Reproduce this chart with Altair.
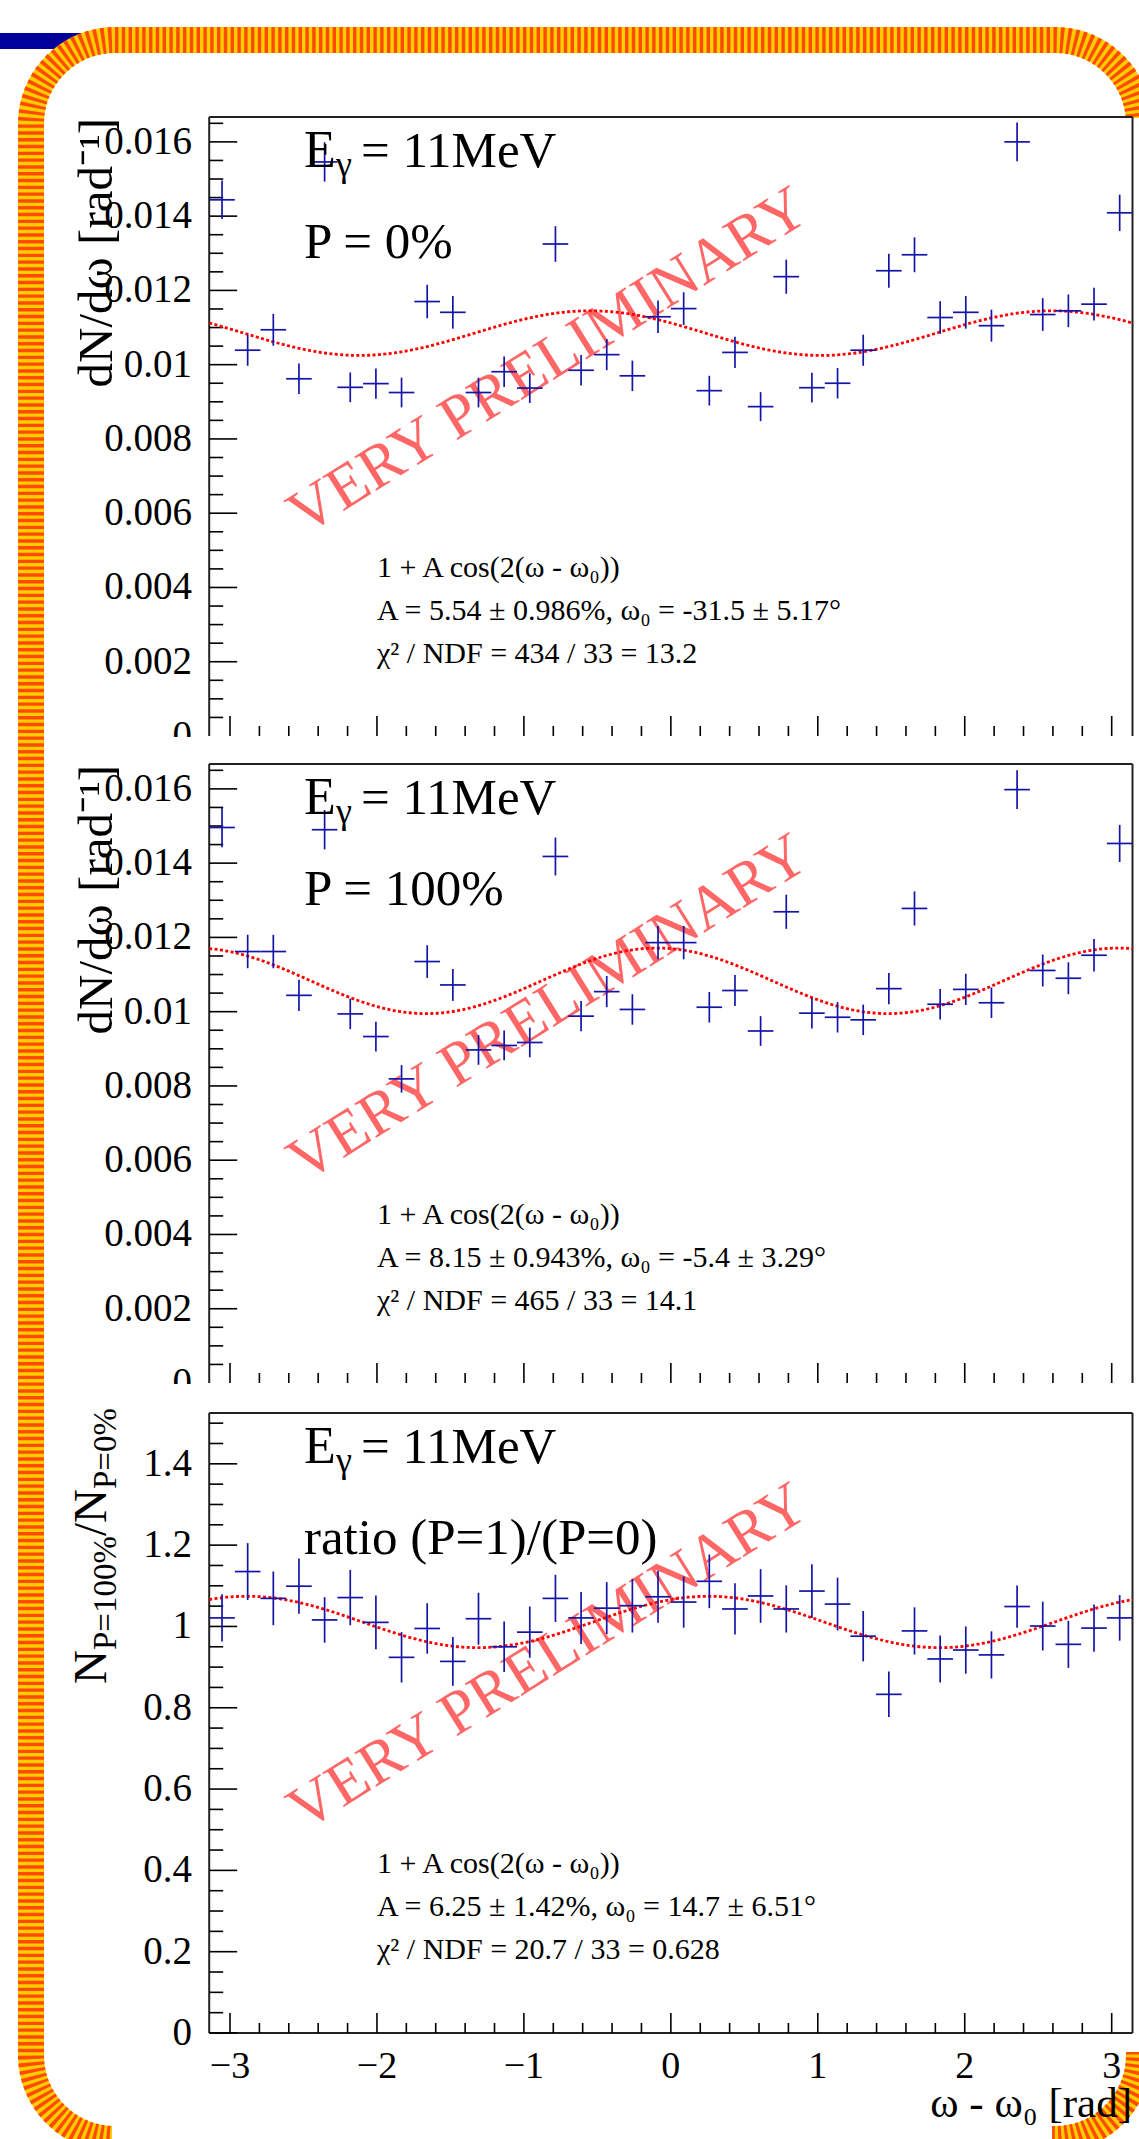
import altair as alt
import pandas as pd

FONT = "Liberation Serif"
W, H = 1139, 2139
BLUE = "#1414A8"
RED = "#FF0000"
WM = "#FF6666"

# ---------------- data ----------------
bin_deg = [-175, -165, -155, -145, -135, -125, -115, -105, -95, -85, -75, -65,
           -55, -45, -35, -25, -15, -5, 5, 15, 25, 35, 45, 55,
           65, 75, 85, 95, 105, 115, 125, 135, 145, 155, 165, 175]

p0_val = [0.01444, 0.01039, 0.01094, 0.00962, 0.01546, 0.00939, 0.00949, 0.00925, 0.01170, 0.01141,
          0.00925, 0.00981, 0.00937, 0.01325, 0.00985, 0.01027, 0.00970, 0.01129, 0.01151, 0.00930,
          0.01033, 0.00887, 0.01237, 0.00938, 0.00950, 0.01039, 0.01253, 0.01296, 0.01127, 0.01141,
          0.01105, 0.01600, 0.01135, 0.01145, 0.01163, 0.01409]
p0_err = [0.00052, 0.00042, 0.00043, 0.00041, 0.00053, 0.00040, 0.00041, 0.00040, 0.00045, 0.00044,
          0.00040, 0.00041, 0.00040, 0.00048, 0.00041, 0.00042, 0.00041, 0.00044, 0.00044, 0.00040,
          0.00042, 0.00039, 0.00046, 0.00040, 0.00041, 0.00042, 0.00046, 0.00047, 0.00044, 0.00044,
          0.00043, 0.00052, 0.00044, 0.00044, 0.00044, 0.00049]

p100_val = [0.01496, 0.01162, 0.01162, 0.01044, 0.01490, 0.00994, 0.00933, 0.00819, 0.01135, 0.01072,
            0.00897, 0.00909, 0.00917, 0.01418, 0.00988, 0.01054, 0.01006, 0.01186, 0.01186, 0.01012,
            0.01057, 0.00948, 0.01269, 0.00996, 0.00985, 0.00978, 0.01062, 0.01278, 0.01020, 0.01060,
            0.01024, 0.01598, 0.01111, 0.01090, 0.01152, 0.01453]
p100_err = [0.00053, 0.00045, 0.00045, 0.00042, 0.00053, 0.00041, 0.00040, 0.00037, 0.00044, 0.00043,
            0.00040, 0.00040, 0.00040, 0.00051, 0.00041, 0.00042, 0.00041, 0.00045, 0.00045, 0.00041,
            0.00042, 0.00040, 0.00046, 0.00041, 0.00041, 0.00041, 0.00042, 0.00046, 0.00041, 0.00042,
            0.00041, 0.00052, 0.00043, 0.00043, 0.00044, 0.00050]

ratio_val = [1.021, 1.135, 1.069, 1.099, 1.016, 1.071, 1.010, 0.924, 0.995, 0.914,
             1.019, 0.950, 0.986, 1.069, 1.021, 1.045, 1.051, 1.073, 1.060, 1.111,
             1.043, 1.075, 1.043, 1.087, 1.055, 0.976, 0.833, 0.989, 0.920, 0.942,
             0.930, 1.049, 1.001, 0.956, 0.996, 1.021]
ratio_err = [0.058, 0.070, 0.066, 0.068, 0.056, 0.068, 0.066, 0.062, 0.062, 0.060,
             0.064, 0.062, 0.063, 0.058, 0.064, 0.064, 0.066, 0.064, 0.063, 0.066,
             0.063, 0.066, 0.058, 0.066, 0.065, 0.062, 0.056, 0.058, 0.058, 0.058,
             0.058, 0.052, 0.060, 0.058, 0.058, 0.056]

# fit parameters: N * (1 + A cos(2(w - w0)))
fit_p0 = {"N": 0.01085, "A": 0.0554, "w0": -31.5}
fit_p100 = {"N": 0.01083, "A": 0.0815, "w0": -5.4}
fit_ratio = {"N": 1.011, "A": 0.0625, "w0": 14.7}

stats_p0 = ["1 + A cos(2(ω - ω₀))", "A = 5.54 ± 0.986%, ω₀ = -31.5 ± 5.17°", "χ² / NDF = 434 / 33 = 13.2"]
stats_p100 = ["1 + A cos(2(ω - ω₀))", "A = 8.15 ± 0.943%, ω₀ = -5.4 ± 3.29°", "χ² / NDF = 465 / 33 = 14.1"]
stats_ratio = ["1 + A cos(2(ω - ω₀))", "A = 6.25 ± 1.42%, ω₀ = 14.7 ± 6.51°", "χ² / NDF = 20.7 / 33 = 0.628"]

# axis ticks
x_major = [-3, -2, -1, 0, 1, 2, 3]
x_labels = ["−3", "−2", "−1", "0", "1", "2", "3"]
x_minor = [round(-3.0 + 0.2 * i, 1) for i in range(31) if i % 5 != 0]

dn_major = [0.002, 0.004, 0.006, 0.008, 0.010, 0.012, 0.014, 0.016]
dn_labels = ["0.002", "0.004", "0.006", "0.008", "0.01", "0.012", "0.014", "0.016"]
dn_minor = [round(0.0005 * i, 4) for i in range(1, 34) if i % 4 != 0]

r_major = [0.0, 0.2, 0.4, 0.6, 0.8, 1.0, 1.2, 1.4]
r_labels = ["0", "0.2", "0.4", "0.6", "0.8", "1", "1.2", "1.4"]
r_minor = [round(0.05 * i, 2) for i in range(1, 31) if i % 4 != 0]

# ---------------- layout (pixels) ----------------
X_LEFT, X_RIGHT = 209.2, 1132.5
PI = 3.141592653589793
xs = alt.Scale(domain=[-PI, PI], range=[X_LEFT, X_RIGHT], nice=False, zero=False)

panels = [
    dict(val=p0_val, err=p0_err, fit=fit_p0, ymax=0.01667, top=117, bot=736,
         major=dn_major, labels=dn_labels, minor=dn_minor, line2="P = 0%",
         stats=stats_p0, bottom_line=False),
    dict(val=p100_val, err=p100_err, fit=fit_p100, ymax=0.01667, top=764, bot=1383,
         major=dn_major, labels=dn_labels, minor=dn_minor, line2="P = 100%",
         stats=stats_p100, bottom_line=False),
    dict(val=ratio_val, err=ratio_err, fit=fit_ratio, ymax=1.525, top=1413, bot=2033,
         major=r_major, labels=r_labels, minor=r_minor, line2="ratio (P=1)/(P=0)",
         stats=stats_ratio, bottom_line=True),
]

ONE = pd.DataFrame({"a": [0]})


def text_at(text, x, y, size, color="black", align="left", baseline="alphabetic",
            angle=None, dx=0, dy=0, opacity=1.0):
    kw = dict(text=text, font=FONT, fontSize=size, color=color, align=align,
              baseline=baseline, dx=dx, dy=dy, opacity=opacity)
    if angle is not None:
        kw["angle"] = angle
    return alt.Chart(ONE).mark_text(**kw).encode(x=alt.value(x), y=alt.value(y))


def hline(x1, x2, y, color="#222222", width=2.0):
    return alt.Chart(ONE).mark_rule(color=color, strokeWidth=width).encode(
        x=alt.value(x1), x2=alt.value(x2), y=alt.value(y))


def vline(x, y1, y2, color="#222222", width=2.0):
    return alt.Chart(ONE).mark_rule(color=color, strokeWidth=width).encode(
        x=alt.value(x), y=alt.value(y1), y2=alt.value(y2))


def box(x1, x2, y1, y2, color):
    return alt.Chart(ONE).mark_rect(color=color).encode(
        x=alt.value(x1), x2=alt.value(x2), y=alt.value(y1), y2=alt.value(y2))


def panel_layer(p):
    top, bot = p["top"], p["bot"]
    ys = alt.Scale(domain=[0, p["ymax"]], range=[bot, top], nice=False, zero=False)
    layers = []

    # frame
    layers.append(hline(X_LEFT, X_RIGHT, top))
    layers.append(vline(X_LEFT, top, bot))
    layers.append(vline(X_RIGHT, top, bot))
    if p["bottom_line"]:
        layers.append(hline(X_LEFT, X_RIGHT, bot))

    # y ticks (inside) and labels
    layers.append(alt.Chart(pd.DataFrame({"v": p["major"]})).mark_rule(color="black", strokeWidth=1.6).encode(
        x=alt.value(X_LEFT), x2=alt.value(X_LEFT + 28), y=alt.Y("v:Q", scale=ys, axis=None)))
    layers.append(alt.Chart(pd.DataFrame({"v": p["minor"]})).mark_rule(color="black", strokeWidth=1.6).encode(
        x=alt.value(X_LEFT), x2=alt.value(X_LEFT + 14), y=alt.Y("v:Q", scale=ys, axis=None)))
    layers.append(alt.Chart(pd.DataFrame({"v": p["major"], "lab": p["labels"]})).mark_text(
        font=FONT, fontSize=39, align="right", baseline="middle", color="black").encode(
        x=alt.value(192), y=alt.Y("v:Q", scale=ys, axis=None), text="lab:N"))

    # x ticks (inside, from bottom)
    layers.append(alt.Chart(pd.DataFrame({"w": x_major})).mark_rule(color="black", strokeWidth=1.6).encode(
        x=alt.X("w:Q", scale=xs, axis=None), y=alt.value(bot), y2=alt.value(bot - 20)))
    layers.append(alt.Chart(pd.DataFrame({"w": x_minor})).mark_rule(color="black", strokeWidth=1.6).encode(
        x=alt.X("w:Q", scale=xs, axis=None), y=alt.value(bot), y2=alt.value(bot - 10)))

    # watermark
    layers.append(text_at("VERY PRELIMINARY", 548, top + 244, 62, color=WM,
                          align="center", baseline="middle", angle=328))

    # fit curve
    f = p["fit"]
    layers.append(alt.Chart(alt.sequence(0, 361, as_="i")).transform_calculate(
        w="-PI + datum.i * PI / 180",
        f=f"{f['N']} * (1 + {f['A']} * cos(2 * (datum.w - ({f['w0']}) * PI / 180)))"
    ).mark_line(color=RED, strokeDash=[3, 2.4], strokeWidth=2.8).encode(
        x=alt.X("w:Q", scale=xs, axis=None), y=alt.Y("f:Q", scale=ys, axis=None)))

    # data points with error bars
    df = pd.DataFrame({"deg": bin_deg, "v": p["val"], "e": p["err"]})
    base = alt.Chart(df).transform_calculate(
        w="datum.deg * PI / 180",
        wl="(datum.deg - 5) * PI / 180",
        wr="(datum.deg + 5) * PI / 180",
        lo="datum.v - datum.e",
        hi="datum.v + datum.e",
    )
    layers.append(base.mark_rule(color=BLUE, strokeWidth=1.7).encode(
        x=alt.X("w:Q", scale=xs, axis=None), y=alt.Y("lo:Q", scale=ys, axis=None), y2="hi:Q"))
    layers.append(base.mark_rule(color=BLUE, strokeWidth=1.7).encode(
        x=alt.X("wl:Q", scale=xs, axis=None), x2="wr:Q", y=alt.Y("v:Q", scale=ys, axis=None)))

    # labels
    layers.append(text_at("E", 304, top + 50, 52))
    layers.append(text_at("γ", 336, top + 59, 36))
    layers.append(text_at("= 11MeV", 361, top + 50, 51))
    layers.append(text_at(p["line2"], 304, top + 141, 51))
    for i, s in enumerate(p["stats"]):
        layers.append(text_at(s, 377, top + 460 + 43 * i, 30))

    # partially hidden "0" label of the upper pads
    if not p["bottom_line"]:
        layers.append(text_at("0", 192, bot, 39, align="right", baseline="middle"))
        layers.append(box(140, 205, bot + 1, bot + 27, "white"))

    return alt.layer(*layers)


# blue slide bar
deco = [box(0, 90, 33, 49, "#00009C")]

# striped rounded border (band runs off the right and bottom edges of the page)
for kw in (dict(stroke="#FFCC00"), dict(stroke="#FF4B00", strokeDash=[3.4, 3.4])):
    deco.append(alt.Chart(ONE).mark_rect(fill="transparent", strokeWidth=26, cornerRadius=84, **kw).encode(
        x=alt.value(31), x2=alt.value(W), y=alt.value(40), y2=alt.value(H)))
# the straight right and bottom runs lie outside the page in the original slide
deco.append(box(1124, W, 118, 2052, "white"))
deco.append(box(112, 1052, 2124, H, "white"))

# axis titles
titles = []
titles.append(text_at("dN/dω [rad⁻¹]", 112, 118, 49, align="right", angle=270))
titles.append(text_at("dN/dω [rad⁻¹]", 112, 765, 49, align="right", angle=270))
# N_{P=100%}/N_{P=0%} composed from pieces (rotated)
y0 = 1684
titles.append(text_at("N", 106, y0, 47, angle=270, dx=0))
titles.append(text_at("P=100%", 106, y0, 33, angle=270, dx=34, dy=10))
titles.append(text_at("/N", 106, y0, 47, angle=270, dx=148))
titles.append(text_at("P=0%", 106, y0, 33, angle=270, dx=195, dy=10))

# x tick labels and title (bottom panel)
titles.append(alt.Chart(pd.DataFrame({"w": x_major, "lab": x_labels})).mark_text(
    font=FONT, fontSize=38, align="center", baseline="alphabetic", color="black").encode(
    x=alt.X("w:Q", scale=xs, axis=None), y=alt.value(2078), text="lab:N"))
titles.append(text_at("ω - ω₀ [rad]", 1132, 2117, 43, align="right"))

chart = alt.layer(
    *deco,
    *[panel_layer(p) for p in panels],
    *titles,
).resolve_scale(y="independent").properties(
    width=W, height=H, padding=0,
    autosize=alt.AutoSizeParams(type="none"),
    background="white",
).configure_view(strokeWidth=0)

chart.save("out.html", embed_options={"renderer": "svg", "actions": False})
